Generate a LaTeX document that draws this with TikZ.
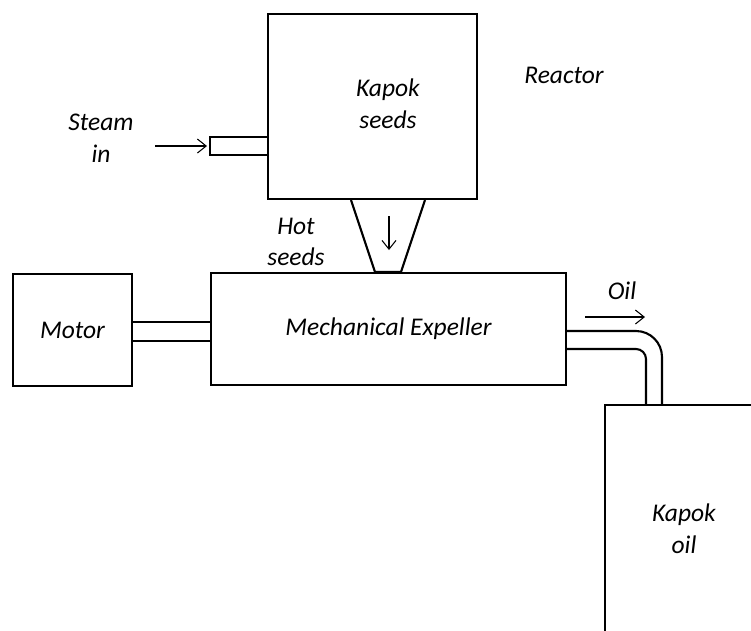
\documentclass[tikz,border=0pt]{standalone}
\usepackage{fontspec}
\setmainfont{Carlito}
\usepackage{tikz}
\usetikzlibrary{arrows, arrows.meta, positioning, calc}

\begin{document}
\begin{tikzpicture}[
            x=0.02cm, y=-0.02cm,
            box/.style={draw, line width=1.2pt, inner sep=0pt},
            pipe/.style={line width=1.2pt},
            flow/.style={-{Straight Barb[length=5pt, width=8pt]}, line width=0.6pt},
            lbl/.style={font=\fontsize{14.5}{18}\selectfont\itshape}
        ]

        \clip (0,0) rectangle (751,630);

        % Boxes (manual layout to match figure)
        \node[box, minimum width=4.18cm, minimum height=3.7cm] (reactor) at (372.5,106.5) {};
        \node[box, lbl, minimum width=7.1cm, minimum height=2.24cm] (expeller) at (388.5,329) {Mechanical Expeller};
        \node[box, lbl, minimum width=2.38cm, minimum height=2.24cm] (motor) at (72.5,330) {Motor};
        \node[box, minimum width=4cm, minimum height=5.2cm, anchor=north west] (tank) at (604,404) {};

        % Labels
        \node[lbl, align=center] (seeds) at (388,104) {Kapok\\seeds};
        \node[lbl] (reactorlbl) at (564,75) {Reactor};
        \node[lbl, align=center] (steam) at (101,138) {Steam\\in};
        \node[lbl, align=center] (hot) at (296,242) {Hot\\seeds};
        \node[lbl, align=center] (oillbl) at (684,529) {Kapok\\oil};
        \node[lbl] (oil) at (622,291) {Oil};

        % Steam inlet
        \coordinate (in1) at (reactor.west |- 0,137);
        \coordinate (in2) at (reactor.west |- 0,155);
        \coordinate (steamstart) at (155,146);
        \coordinate (steamend) at (207,146);
        \draw[pipe] (in1) -- ++(-57,0) -- ++(0,18) -- (in2);
        \draw[flow] (steamstart) -- (steamend);

        % Hopper
        \coordinate (h1) at (351,0 |- reactor.south);
        \coordinate (h2) at (375,0 |- expeller.north);
        \coordinate (h3) at (401,0 |- expeller.north);
        \coordinate (h4) at (425,0 |- reactor.south);
        \draw[pipe] (h1) -- (h2) -- (h3) -- (h4);
        \draw[flow] (389,216) -- (389,250);

        % Shaft
        \draw[pipe] ([yshift=0.16cm]motor.east) -- ([yshift=0.16cm]motor.east -| expeller.west);
        \draw[pipe] ([yshift=-0.22cm]motor.east) -- ([yshift=-0.22cm]motor.east -| expeller.west);

        % Oil pipe
        \draw[pipe, rounded corners=0.52cm] (expeller.east |- 0,331) -- (662,331) -- (662,0 |- tank.north);
        \draw[pipe, rounded corners=0.2cm] (expeller.east |- 0,349) -- (646,349) -- (646,0 |- tank.north);
        \coordinate (oilstart) at (585,317);
        \coordinate (oilend) at (645,317);
        \draw[flow] (oilstart) -- (oilend);

        \end{tikzpicture}
\end{document}
